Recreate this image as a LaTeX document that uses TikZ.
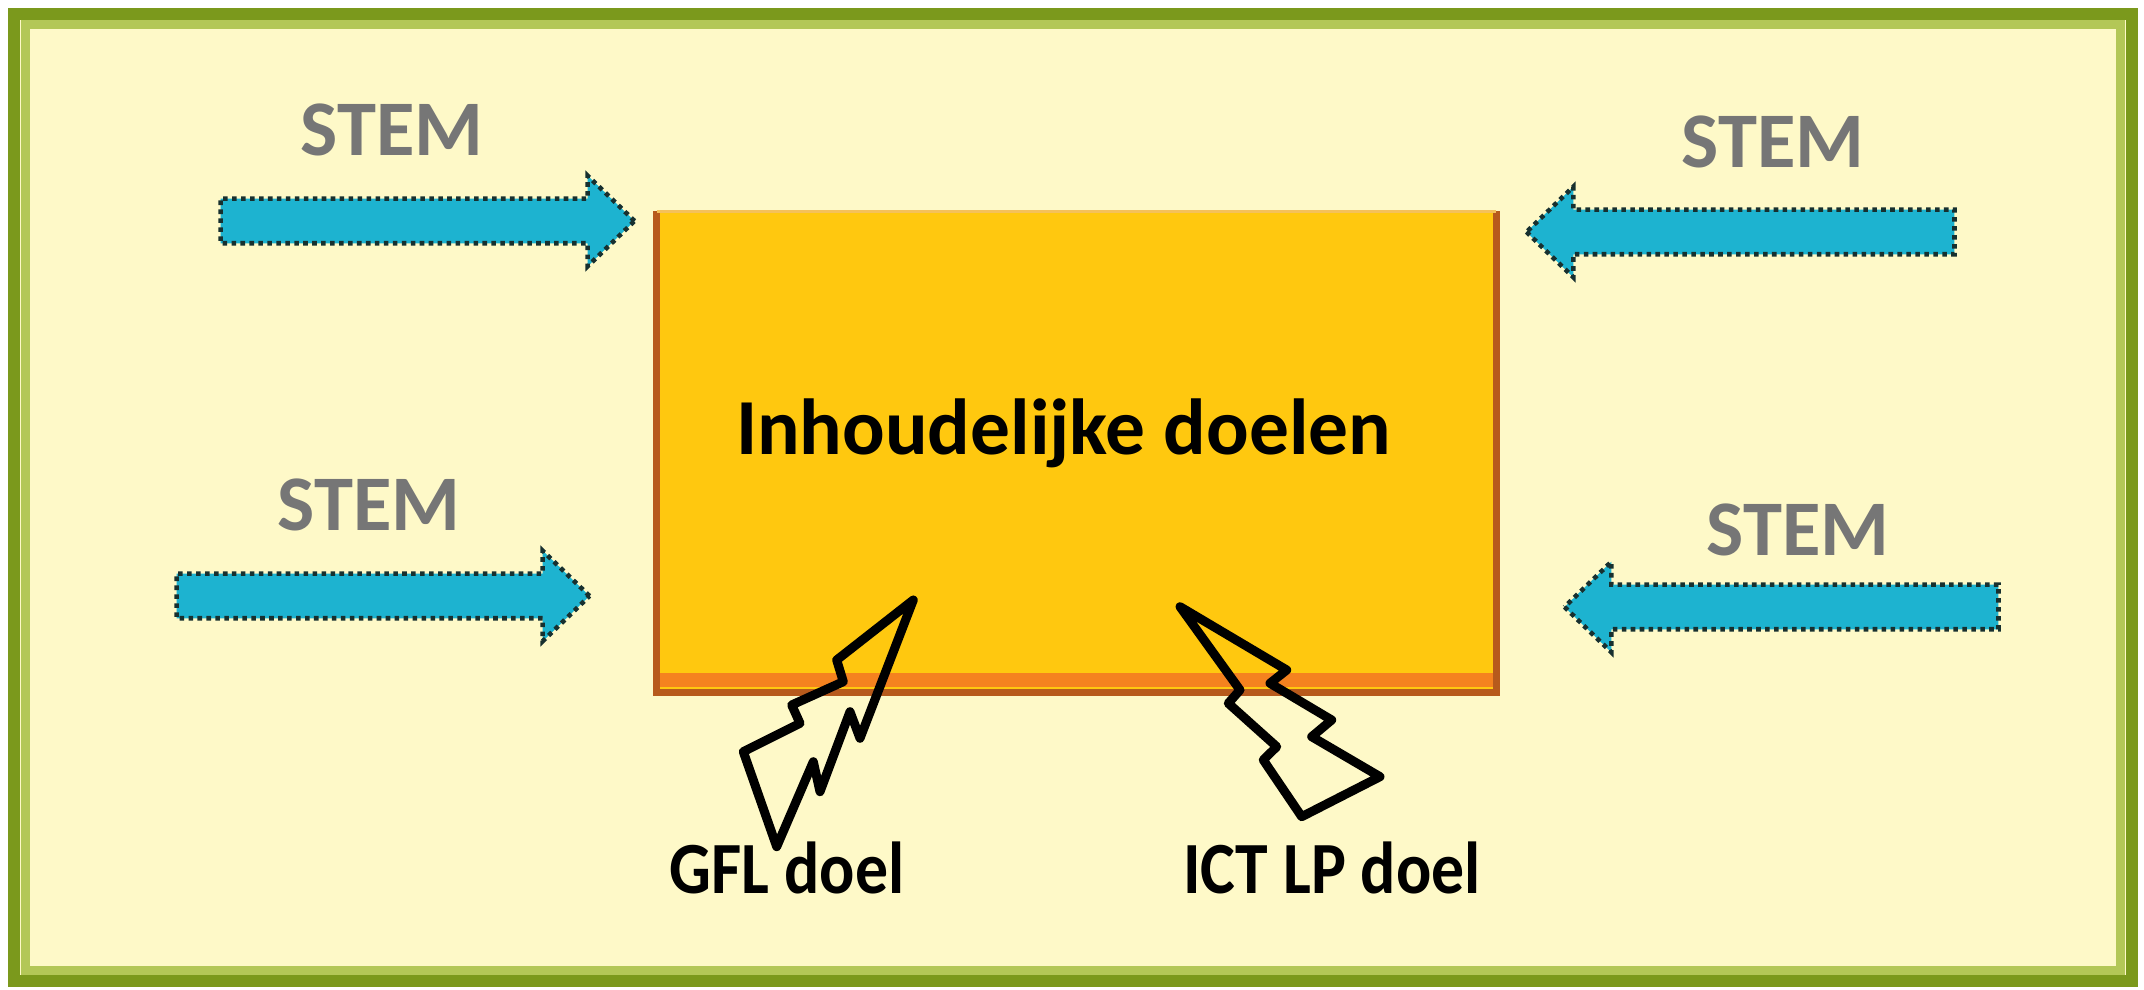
\documentclass[tikz,border=0pt]{standalone}
\usepackage{fontspec}
\setmainfont{Carlito}
\usepackage{tikz}
\usetikzlibrary{shapes.arrows,positioning,calc}
\definecolor{achter}{HTML}{FEF9C8}
\definecolor{kader}{HTML}{7B991C}
\definecolor{kaderlicht}{HTML}{B3C757}
\definecolor{doelgeel}{HTML}{FFC80F}
\definecolor{doeltop}{HTML}{F4C15A}
\definecolor{doelband}{HTML}{F5821F}
\definecolor{doelrand}{HTML}{B75A1C}
\definecolor{pijl}{HTML}{1DB3D0}
\definecolor{pijlrand}{HTML}{17302F}
\definecolor{stemgrijs}{HTML}{767676}
\tikzset{doelbox/.style={fill=doelgeel,minimum width=8.38cm,minimum height=4.80cm,inner sep=0pt},
  stemarrow/.style={single arrow,fill=pijl,draw=pijlrand,line width=1.3pt,dash pattern=on 1.3pt off 1.25pt,
    inner sep=0pt,inner ysep=0.20cm,minimum width=0.86cm,single arrow head extend=0.23cm,single arrow tip angle=88},
  stemlabel/.style={text=stemgrijs,font=\bfseries\fontsize{22.4}{26}\selectfont,inner sep=0pt},
  bolt/.style={draw=black,line width=0.09cm,line join=round},
  doellabel/.style={font=\bfseries\fontsize{18.7}{22}\selectfont,inner sep=0pt,yscale=1.12}}

\begin{document}
\begin{tikzpicture}
\useasboundingbox (0,0) rectangle (21.44,9.90);
\fill[white] (0,0) rectangle (21.44,9.90);
\fill[achter] (0.14,0.09) rectangle (21.315,9.76);
\draw[kader,line width=0.12cm] (0.14,0.09) rectangle (21.315,9.76);
\draw[kaderlicht,line width=0.09cm] (0.25,0.19) rectangle (21.20,9.65);
% central box
\node[doelbox] (box) at (10.765,5.38) {};
\fill[doelband] ($(box.south west)+(0,0.06)$) rectangle ($(box.south east)+(0,0.20)$);
\draw[doelrand,line width=0.07cm] (box.north west) -- (box.south west) -- (box.south east) -- (box.north east);
\draw[doeltop,line width=0.03cm] (box.north west) -- (box.north east);
\node[font=\bfseries\fontsize{22.6}{26}\selectfont,inner sep=0pt] (inhoud) at ($(box.center)+(-0.13,0.19)$) {Inhoudelijke doelen};
% STEM arrows
\node[stemarrow,minimum height=4.14cm] (pijlLB) at (4.16,7.69) {};
\node[stemarrow,minimum height=4.28cm,shape border rotate=180] (pijlRB) at (17.52,7.58) {};
\node[stemarrow,minimum height=4.13cm] (pijlLO) at (3.715,3.94) {};
\node[stemarrow,minimum height=4.34cm,shape border rotate=180] (pijlRO) at (17.93,3.83) {};
\node[stemlabel] (stemLB) at (3.92,8.60) {STEM};
\node[stemlabel] (stemRB) at (17.73,8.48) {STEM};
\node[stemlabel] (stemLO) at (3.69,4.85) {STEM};
\node[stemlabel] (stemRO) at (17.98,4.60) {STEM};
% lightning bolts
\draw[bolt] (9.133,3.90) -- (8.367,3.30) -- (8.433,3.083) -- (7.917,2.85) -- (8.00,2.667) -- (7.433,2.383)
  -- (7.767,1.433) -- (8.133,2.283) -- (8.20,1.983) -- (8.50,2.783) -- (8.60,2.517) -- cycle;
\draw[bolt] (11.80,3.833) -- (12.867,3.20) -- (12.70,3.067) -- (13.317,2.70) -- (13.117,2.533) -- (13.80,2.133)
  -- (13.017,1.733) -- (12.633,2.30) -- (12.767,2.433) -- (12.283,2.867) -- (12.40,3.00) -- cycle;
\node[doellabel,transform shape] (gfl) at (7.87,1.22) {GFL doel};
\node[doellabel,transform shape] (ict) at (13.32,1.22) {ICT LP doel};
\end{tikzpicture}
\end{document}
